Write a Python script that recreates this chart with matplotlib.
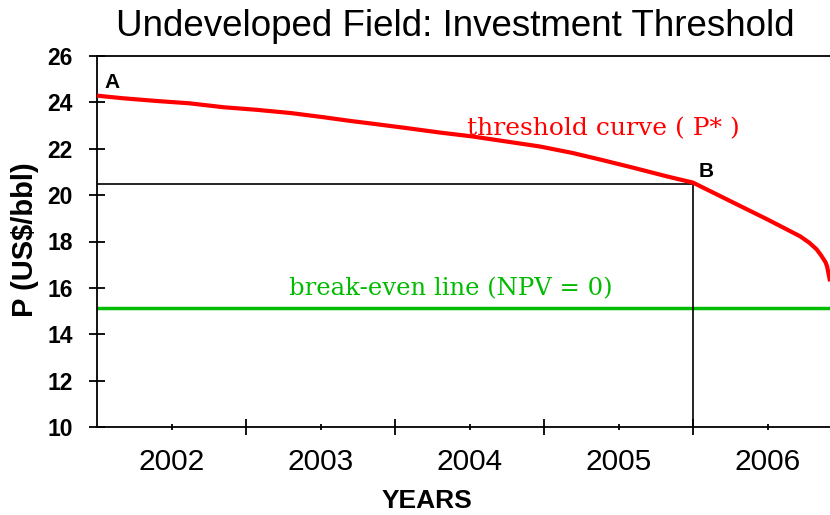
import matplotlib
matplotlib.use("Agg")
import matplotlib.pyplot as plt
from matplotlib.ticker import FixedLocator, NullFormatter, FixedFormatter

# Data
years = [2002.00, 2002.17, 2002.40, 2002.62, 2002.85, 2003.07, 2003.30, 2003.52,
         2003.70, 2003.85, 2004.08, 2004.30, 2004.52, 2004.75, 2004.97, 2005.19,
         2005.38, 2005.60, 2005.83, 2006.00, 2006.27, 2006.50, 2006.60, 2006.72,
         2006.78, 2006.83, 2006.86, 2006.89, 2006.90, 2006.92]
threshold = [24.29, 24.18, 24.06, 23.96, 23.79, 23.68, 23.54, 23.36,
             23.20, 23.08, 22.89, 22.70, 22.53, 22.31, 22.10, 21.82,
             21.53, 21.18, 20.80, 20.54, 19.68, 18.95, 18.62, 18.22,
             17.95, 17.66, 17.40, 17.10, 16.92, 16.28]
break_even = 15.15
point_b_year = 2006.0
point_b_price = 20.5
year_labels = ["2002", "2003", "2004", "2005", "2006"]
year_label_pos = [2002.5, 2003.5, 2004.5, 2005.5, 2006.5]
year_bounds = [2003, 2004, 2005, 2006]
y_ticks = [10, 12, 14, 16, 18, 20, 22, 24, 26]

plt.rcParams['font.family'] = ['Liberation Sans', 'DejaVu Sans']

fig = plt.figure(figsize=(8.3, 5.15), dpi=100)
ax = fig.add_axes([97/830, 88/515, 733/830, 371/515])

xmin, xmax = 2002.0, 2002.0 + 733/149
ax.set_xlim(xmin, xmax)
ax.set_ylim(10, 26)

ax.plot(years, threshold, color='#ff0000', lw=3, solid_capstyle='butt',
        solid_joinstyle='round', zorder=3)
ax.axhline(break_even, color='#00bb00', lw=2.5, zorder=2)
ax.plot([xmin, point_b_year], [point_b_price, point_b_price], color='black', lw=1.2, zorder=2)
ax.plot([point_b_year, point_b_year], [10, point_b_price], color='black', lw=1.2, zorder=2)

ax.spines['right'].set_visible(False)
for s in ['left', 'bottom', 'top']:
    ax.spines[s].set_linewidth(1.3)

ax.set_yticks(y_ticks)
ax.set_yticklabels([str(v) for v in y_ticks], fontsize=16.5, fontweight='bold')
ax.tick_params(axis='y', direction='inout', length=11, width=1.3, pad=12)

ax.xaxis.set_major_locator(FixedLocator(year_bounds))
ax.xaxis.set_major_formatter(NullFormatter())
ax.xaxis.set_minor_locator(FixedLocator(year_label_pos))
ax.xaxis.set_minor_formatter(FixedFormatter(year_labels))
ax.tick_params(axis='x', which='major', direction='inout', length=11, width=1.3)
ax.tick_params(axis='x', which='minor', direction='inout', length=4, width=1.3, labelsize=21.5, pad=13)

ax.set_xlabel('YEARS', fontsize=19, fontweight='bold')
ax.xaxis.set_label_coords((427 - 97) / 733, (427 - 489) / 371, transform=ax.transAxes)
ax.set_ylabel('P (US$/bbl)', fontsize=21, fontweight='bold')
ax.yaxis.set_label_coords(-(97 - 39) / 733, (427 - 240) / 371, transform=ax.transAxes)

fig.text(455/830, 1 - 26/515, 'Undeveloped Field: Investment Threshold', fontsize=26.5,
         ha='center', va='center')

ax.text(2002.05, 24.45, 'A', fontsize=15, fontweight='bold', ha='left', va='bottom')
ax.text(2006.04, 20.6, 'B', fontsize=15, fontweight='bold', ha='left', va='bottom')

serif = ['DejaVu Serif', 'Liberation Serif']
ax.text(2004.48, 22.35, 'threshold curve ( P* )', color='#ff0000', fontsize=18,
        family=serif, ha='left', va='bottom')
ax.text(2003.29, 15.45, 'break-even line (NPV = 0)', color='#00bb00', fontsize=17.5,
        family=serif, ha='left', va='bottom')

fig.savefig('out.png', dpi=100)
